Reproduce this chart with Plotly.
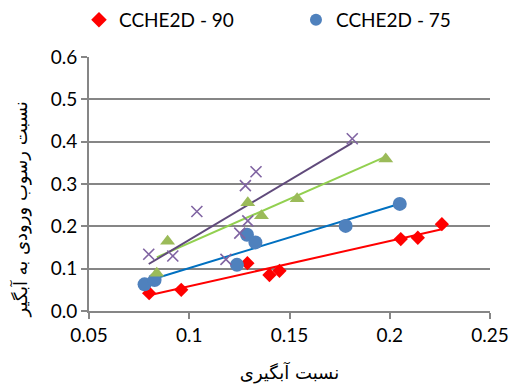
import numpy as np
import plotly.graph_objects as go

# Data
x90 = [0.080, 0.096, 0.129, 0.140, 0.145, 0.2055, 0.214, 0.226]
y90 = [0.042, 0.050, 0.113, 0.085, 0.095, 0.170, 0.173, 0.205]

x75 = [0.0777, 0.0827, 0.1238, 0.1288, 0.133, 0.178, 0.205]
y75 = [0.063, 0.073, 0.109, 0.180, 0.162, 0.201, 0.253]

xg = [0.0838, 0.0892, 0.1292, 0.136, 0.1538, 0.198]
yg = [0.089, 0.165, 0.256, 0.225, 0.265, 0.359]

xp = [0.0798, 0.0918, 0.1038, 0.1183, 0.1252, 0.128, 0.1292, 0.1333, 0.1813]
yp = [0.134, 0.130, 0.235, 0.122, 0.184, 0.296, 0.213, 0.329, 0.407]

x_ticks = [0.05, 0.1, 0.15, 0.2, 0.25]
x_tick_labels = ["0.05", "0.1", "0.15", "0.2", "0.25"]
y_ticks = [0.0, 0.1, 0.2, 0.3, 0.4, 0.5, 0.6]
y_tick_labels = ["0.0", "0.1", "0.2", "0.3", "0.4", "0.5", "0.6"]

x_title = "نسبت آبگیری"
y_title = "نسبت رسوب ورودی به آبگیر"

series = [
    ("CCHE2D - 90", x90, y90, dict(symbol="diamond", color="#FF0000", size=11), "#FF0000", True),
    ("CCHE2D - 75", x75, y75, dict(symbol="circle", color="#4F81BD", size=14), "#0070C0", True),
    ("s3", xg, yg, dict(symbol="triangle-up", color="#9BBB59", size=13), "#92D050", False),
    ("s4", xp, yp, dict(symbol="x-thin", color="#8064A2", size=11,
                        line=dict(color="#8064A2", width=1.6)), "#604A7B", False),
]

fig = go.Figure()
for name, xs, ys, mk, lc, show in series:
    a, b = np.polyfit(xs, ys, 1)
    xl = np.array([min(xs), max(xs)])
    fig.add_trace(go.Scatter(x=xl, y=a * xl + b, mode="lines",
                             line=dict(color=lc, width=2), showlegend=False,
                             hoverinfo="skip"))
for name, xs, ys, mk, lc, show in series:
    fig.add_trace(go.Scatter(x=xs, y=ys, mode="markers", name=name,
                             marker=mk, showlegend=show))

tick_font = dict(family="Lato, Open Sans, sans-serif", size=19, color="#000000")
fig.update_layout(
    width=513, height=385,
    margin=dict(l=89, r=23, t=57, b=74, autoexpand=False),
    plot_bgcolor="white", paper_bgcolor="white",
    showlegend=True,
    legend=dict(orientation="h", x=-0.025, xanchor="left", y=1.146, yanchor="middle",
                font=dict(family="Lato, Open Sans, sans-serif", size=19, color="#000"),
                entrywidth=172, itemsizing="constant", bgcolor="rgba(0,0,0,0)"),
    xaxis=dict(range=[0.05, 0.25], tickvals=x_ticks, ticktext=x_tick_labels,
               showgrid=False, zeroline=False, showline=True, linecolor="#868686", linewidth=2,
               ticks="outside", ticklen=6, tickcolor="#868686", tickwidth=2,
               tickfont=tick_font, automargin=False,
               title=dict(text=x_title, font=dict(family="DejaVu Serif, DejaVu Sans", size=18, color="#000"), standoff=22)),
    yaxis=dict(range=[0, 0.6], tickvals=y_ticks, ticktext=y_tick_labels,
               showgrid=True, gridcolor="#868686", gridwidth=2, zeroline=False,
               showline=True, linecolor="#868686", linewidth=2,
               ticks="outside", ticklen=6, tickcolor="#868686", tickwidth=2,
               tickfont=tick_font, automargin=False),
    annotations=[dict(text=y_title, textangle=-90, xref="paper", yref="paper",
                      x=-0.172, y=0.40, xanchor="center", yanchor="middle", showarrow=False,
                      font=dict(family="DejaVu Serif, DejaVu Sans", size=18, color="#000"))],
)
fig.write_html("out.html")
